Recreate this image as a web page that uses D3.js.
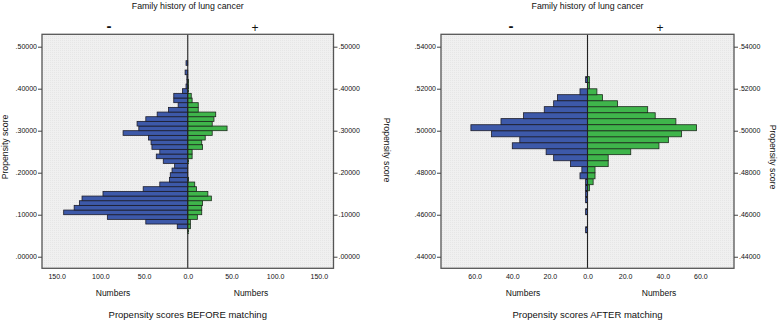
<!DOCTYPE html>
<html>
<head>
<meta charset="utf-8">
<script src="https://cdn.jsdelivr.net/npm/d3@7"></script>
<style>
  body { margin: 0; background: #fff; }
  svg { display: block; font-family: "Liberation Sans", Arial, sans-serif; }
</style>
</head>
<body>
<div id="container"></div>
<script>
let w = 778;
let h = 322;

// BEFORE matching: lower edge of each propensity bin, counts for family history - / +
let beforeBins = [0.0556, 0.0667, 0.0778, 0.0889, 0.1000, 0.1111, 0.1222, 0.1333, 0.1444, 0.1556,
                  0.1667, 0.1778, 0.1889, 0.2000, 0.2111, 0.2222, 0.2333, 0.2444, 0.2556, 0.2667,
                  0.2778, 0.2889, 0.3000, 0.3111, 0.3222, 0.3333, 0.3444, 0.3556, 0.3667, 0.3778,
                  0.3889, 0.4000, 0.4111, 0.4222, 0.4333, 0.4444, 0.4556];
let beforeMinus = [0, 12, 48, 92, 142, 130, 124, 121, 97, 51,
                   32, 21, 20, 18, 15, 28, 36, 32, 41, 42,
                   45, 74, 56, 58, 48, 35, 22, 11, 16, 16,
                   6, 2, 1, 1, 3, 0, 2];
let beforePlus = [1, 3, 3, 11, 16, 16, 17, 27, 23, 10,
                  8, 1, 0, 0, 0, 1, 5, 5, 17, 16,
                  20, 28, 45, 28, 30, 32, 12, 12, 5, 4,
                  1, 1, 1, 0, 0, 0, 0];
let beforeBinWidth = 0.0111;
let beforeTicksY = [0, 0.1, 0.2, 0.3, 0.4, 0.5];
let beforeTicksX = [-150, -100, -50, 0, 50, 100, 150];

// AFTER matching
let afterBins = [0.4514, 0.4543, 0.4571, 0.4600, 0.4629, 0.4657, 0.4686, 0.4714, 0.4743, 0.4771,
                 0.4800, 0.4829, 0.4857, 0.4886, 0.4914, 0.4943, 0.4971, 0.5000, 0.5029, 0.5057,
                 0.5086, 0.5114, 0.5143, 0.5171, 0.5200, 0.5229];
let afterMinus = [1, 0, 0, 1, 0, 1, 1, 1, 1, 4,
                  3, 9, 18, 22, 40, 36, 51, 62, 46, 34,
                  23, 18, 16, 4, 0, 1];
let afterPlus = [0, 0, 0, 0, 0, 0, 0, 1, 3, 4,
                 4, 11, 11, 23, 38, 43, 50, 58, 47, 36,
                 32, 16, 8, 5, 1, 1];
let afterBinWidth = 0.002857;
let afterTicksY = [0.44, 0.46, 0.48, 0.50, 0.52, 0.54];
let afterTicksX = [-60, -40, -20, 0, 20, 40, 60];

let groups = ["-", "+"];
let blue = "#3d59a9";
let green = "#3fb54b";
let ink = "#111";

let viz = d3.select("#container").append("svg")
    .attr("width", w)
    .attr("height", h)
    .style("background-color", "#fff");

let defs = viz.append("defs");
let pat = defs.append("pattern")
    .attr("id", "dots")
    .attr("width", 2).attr("height", 2)
    .attr("patternUnits", "userSpaceOnUse");
pat.append("rect").attr("width", 2).attr("height", 2).attr("fill", "#f0f0f0");
pat.append("rect").attr("width", 1).attr("height", 1).attr("fill", "#e6e6e6");

let yFmt = d => d3.format(".5f")(d).replace(/^0/, "");
let xFmt = d => d3.format(".1f")(Math.abs(d));

function drawPanel(p) {
  let g = viz.append("g").attr("class", "panel");

  let xScale = d3.scaleLinear().domain([-p.xMax, p.xMax]).range([p.left, p.right]);
  let yScale = d3.scaleLinear().domain(p.yDomain).range([p.bottom, p.top]);

  g.append("rect")
      .attr("x", p.left).attr("y", p.top)
      .attr("width", p.right - p.left).attr("height", p.bottom - p.top)
      .attr("fill", "url(#dots)");

  let rows = p.bins.map((b, i) => ({ b: b, minus: p.minus[i], plus: p.plus[i] }));

  let bars = g.append("g").attr("class", "bars");
  bars.selectAll(".minus").data(rows.filter(d => d.minus > 0)).enter()
    .append("rect")
      .attr("class", "minus")
      .attr("x", d => xScale(-d.minus))
      .attr("y", d => yScale(d.b + p.binWidth))
      .attr("width", d => xScale(0) - xScale(-d.minus))
      .attr("height", d => yScale(d.b) - yScale(d.b + p.binWidth))
      .attr("fill", blue)
      .attr("stroke", "#1c1c2a")
      .attr("stroke-width", 0.8);
  bars.selectAll(".plus").data(rows.filter(d => d.plus > 0)).enter()
    .append("rect")
      .attr("class", "plus")
      .attr("x", xScale(0))
      .attr("y", d => yScale(d.b + p.binWidth))
      .attr("width", d => xScale(d.plus) - xScale(0))
      .attr("height", d => yScale(d.b) - yScale(d.b + p.binWidth))
      .attr("fill", green)
      .attr("stroke", "#1c2a1c")
      .attr("stroke-width", 0.8);

  // centre line
  g.append("line")
      .attr("x1", xScale(0)).attr("x2", xScale(0))
      .attr("y1", p.top).attr("y2", p.bottom)
      .attr("stroke", "#222").attr("stroke-width", 1.1);

  // frame
  g.append("rect")
      .attr("x", p.left).attr("y", p.top)
      .attr("width", p.right - p.left).attr("height", p.bottom - p.top)
      .attr("fill", "none").attr("stroke", "#555").attr("stroke-width", 1.3);

  // axes
  let yLeft = g.append("g").attr("transform", "translate(" + p.left + ",0)")
      .call(d3.axisLeft(yScale).tickValues(p.ticksY).tickFormat(yFmt).tickSize(4).tickPadding(1));
  let yRight = g.append("g").attr("transform", "translate(" + p.right + ",0)")
      .call(d3.axisRight(yScale).tickValues(p.ticksY).tickFormat(yFmt).tickSize(4).tickPadding(1));
  let xAxis = g.append("g").attr("transform", "translate(0," + p.bottom + ")")
      .call(d3.axisBottom(xScale).tickValues(p.ticksX).tickFormat(xFmt).tickSize(0).tickPadding(6));

  [yLeft, yRight, xAxis].forEach(a => {
    a.select(".domain").attr("display", "none");
    a.selectAll("line").attr("stroke", "#444");
    a.selectAll("text").style("font-size", "7px").attr("fill", ink)
      .style("font-family", "'Liberation Sans', Arial, sans-serif");
  });

  let cx = xScale(0);
  g.append("text").attr("x", cx).attr("y", 9).attr("text-anchor", "middle")
      .style("font-size", "8.8px").attr("fill", ink).text("Family history of lung cancer");
  g.append("text").attr("x", p.minusX).attr("y", 30.5).attr("text-anchor", "middle")
      .style("font-size", "15px").style("font-weight", "bold").attr("fill", ink).text(groups[0]);
  g.append("text").attr("x", p.plusX).attr("y", 31.5).attr("text-anchor", "middle")
      .style("font-size", "12px").attr("fill", ink).text(groups[1]);

  g.append("text").attr("x", p.numL).attr("y", 296).attr("text-anchor", "middle")
      .style("font-size", "8.5px").attr("fill", ink).text("Numbers");
  g.append("text").attr("x", p.numR).attr("y", 296).attr("text-anchor", "middle")
      .style("font-size", "8.5px").attr("fill", ink).text("Numbers");

  g.append("text").attr("x", cx).attr("y", 318).attr("text-anchor", "middle")
      .style("font-size", "9.5px").attr("fill", ink).text(p.caption);

  if (p.labelLeftX != null) {
    g.append("text")
        .attr("transform", "translate(" + p.labelLeftX + "," + p.labelLeftY + ") rotate(-90)")
        .attr("text-anchor", "middle")
        .style("font-size", "8.7px").attr("fill", ink).text("Propensity score");
  }
  g.append("text")
      .attr("transform", "translate(" + p.labelRightX + "," + p.labelRightY + ") rotate(90)")
      .attr("text-anchor", "middle")
      .style("font-size", "8.7px").attr("fill", ink).text("Propensity score");
}

drawPanel({
  bins: beforeBins, minus: beforeMinus, plus: beforePlus, binWidth: beforeBinWidth,
  ticksY: beforeTicksY, ticksX: beforeTicksX,
  xMax: 166.8, yDomain: [-0.0276, 0.5295],
  left: 42, right: 333.5, top: 34.3, bottom: 268.3,
  minusX: 109, plusX: 255, numL: 113, numR: 251,
  caption: "Propensity scores BEFORE matching",
  labelLeftX: 8, labelLeftY: 147, labelRightX: 384, labelRightY: 150
});

drawPanel({
  bins: afterBins, minus: afterMinus, plus: afterPlus, binWidth: afterBinWidth,
  ticksY: afterTicksY, ticksX: afterTicksX,
  xMax: 77.9, yDomain: [0.4345, 0.5459],
  left: 441, right: 734, top: 34.3, bottom: 268.3,
  minusX: 511, plusX: 660, numL: 523, numR: 659,
  caption: "Propensity scores AFTER matching",
  labelLeftX: null, labelRightX: 770, labelRightY: 157
});
</script>
</body>
</html>
